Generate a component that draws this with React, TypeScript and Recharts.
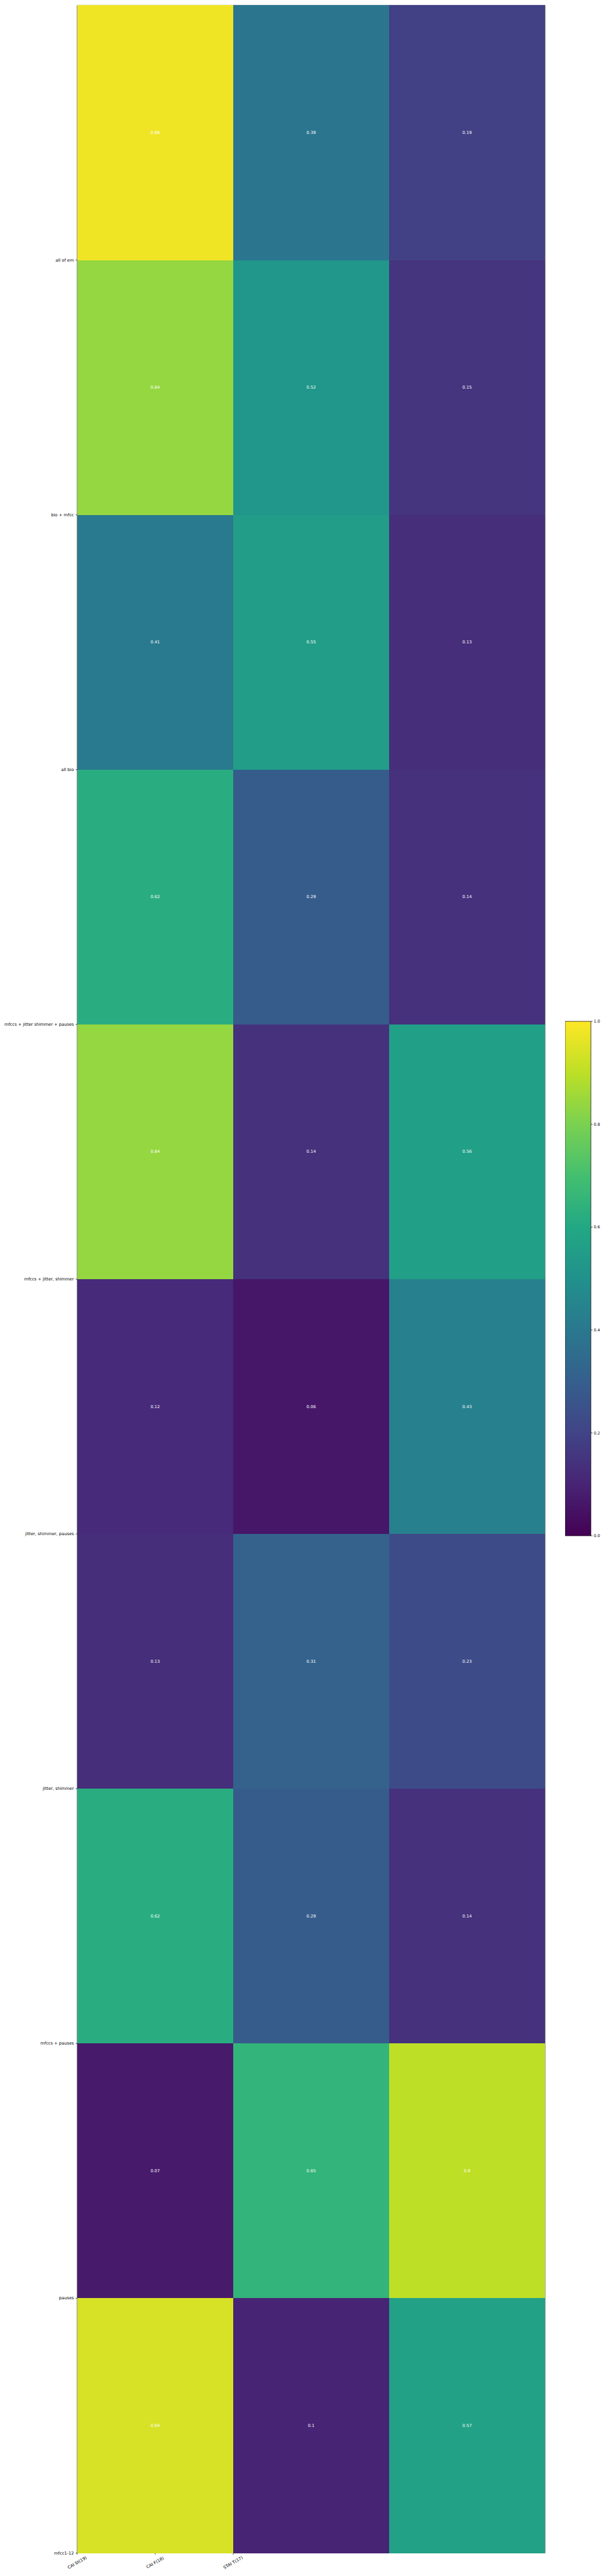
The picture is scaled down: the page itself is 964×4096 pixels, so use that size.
import React from "react"
import { ScatterChart, Scatter, BarChart, Bar, XAxis, YAxis } from "recharts"

// row labels, top to bottom (matplotlib put them on the lower edge of each row)
const rowLabels = [
  "all of em",
  "bio + mfcc",
  "all bio",
  "mfccs + jitter shimmer + pauses",
  "mfccs + jitter, shimmer",
  "jitter, shimmer, pauses",
  "jitter, shimmer",
  "mfccs + pauses",
  "pauses",
  "mfcc1-12",
]
const colLabels = ["CAI St(19)", "CAI F(18)", "STAI T(17)"]

// one array per column, same order as rowLabels
const caiSt = [0.98, 0.84, 0.41, 0.62, 0.84, 0.12, 0.13, 0.62, 0.07, 0.94]
const caiF = [0.39, 0.52, 0.55, 0.29, 0.14, 0.06, 0.31, 0.29, 0.65, 0.1]
const staiT = [0.19, 0.15, 0.13, 0.14, 0.56, 0.43, 0.23, 0.14, 0.9, 0.57]
const columns = [caiSt, caiF, staiT]

const colorbarTicks = [0, 0.2, 0.4, 0.6, 0.8, 1]

// viridis reference stops (0, 0.1, ... 1)
const VIRIDIS = [
  "#440154", "#482475", "#414487", "#355f8d", "#2a788e", "#21918c",
  "#22a884", "#44bf70", "#7ad151", "#bddf26", "#fde725",
]

function viridis(v: number) {
  const t = Math.max(0, Math.min(1, v)) * 10
  const i = Math.min(9, Math.floor(t))
  const f = t - i
  const a = VIRIDIS[i], b = VIRIDIS[i + 1]
  const ch = (s: string, k: number) => parseInt(s.slice(1 + k * 2, 3 + k * 2), 16)
  const mix = (k: number) => Math.round(ch(a, k) + (ch(b, k) - ch(a, k)) * f)
  return `rgb(${mix(0)},${mix(1)},${mix(2)})`
}

const W = 964
const H = 4096
const FONT = "DejaVu Sans"
const PLOT_LEFT = 122.9
const PLOT_TOP = 8.4
const PLOT_RIGHT = 867
const PLOT_BOTTOM = 4059.5
const CELL_W = (PLOT_RIGHT - PLOT_LEFT) / 3
const CELL_H = (PLOT_BOTTOM - PLOT_TOP) / 10

const cells = columns.flatMap((col, j) =>
  col.map((v, i) => ({ x: 2 * j + 1, y: 9.5 - i, v }))
)

const HeatCell = (props: any) => {
  const { cx, cy, payload } = props
  return (
    <g>
      <rect
        x={cx - CELL_W / 2}
        y={cy - CELL_H / 2}
        width={CELL_W}
        height={CELL_H}
        fill={viridis(payload.v)}
        shapeRendering="crispEdges"
      />
      <text x={cx} y={cy} textAnchor="middle" dominantBaseline="central" fill="#fff" fontSize={6.7} fontFamily={FONT}>
        {String(payload.v)}
      </text>
    </g>
  )
}

const XTick = (props: any) => {
  const { x, y, payload } = props
  const cy = y + 10.5
  return (
    <text
      x={x}
      y={cy}
      transform={`rotate(-30 ${x} ${cy})`}
      textAnchor="middle"
      dominantBaseline="central"
      fontSize={6.7}
      fontFamily={FONT}
      fill="#000"
    >
      {colLabels[payload.value]}
    </text>
  )
}

// plain <text> so long labels don't get wrapped
const YTick = (props: any) => {
  const { x, y, payload } = props
  return (
    <text x={x} y={y} textAnchor="end" dominantBaseline="central" fontSize={6.7} fontFamily={FONT} fill="#000">
      {rowLabels[9 - payload.value]}
    </text>
  )
}

const axisLine = { stroke: "#000", strokeWidth: 0.7 }

export default function App() {
  return (
    <div style={{ position: "absolute", left: 0, top: 0, width: W, height: H, background: "#fff" }}>
      <ScatterChart
        width={W}
        height={H}
        margin={{ top: PLOT_TOP - 1, right: W - PLOT_RIGHT - 1, bottom: 0, left: 0 }}
      >
        <XAxis
          xAxisId="b"
          type="number"
          dataKey="x"
          domain={[0, 6]}
          ticks={[0, 1, 2]}
          interval={0}
          height={H - PLOT_BOTTOM}
          axisLine={axisLine}
          tickLine={axisLine}
          tickSize={2.5}
          tickMargin={2.4}
          tick={<XTick />}
        />
        <XAxis
          xAxisId="t"
          orientation="top"
          type="number"
          domain={[0, 6]}
          ticks={[]}
          tick={false}
          tickLine={false}
          height={1}
          axisLine={axisLine}
        />
        <YAxis
          yAxisId="l"
          type="number"
          dataKey="y"
          domain={[0, 10]}
          ticks={[0, 1, 2, 3, 4, 5, 6, 7, 8, 9]}
          interval={0}
          width={PLOT_LEFT}
          axisLine={axisLine}
          tickLine={axisLine}
          tickSize={2.5}
          tickMargin={2.9}
          tick={<YTick />}
        />
        <YAxis
          yAxisId="r"
          orientation="right"
          type="number"
          domain={[0, 10]}
          ticks={[]}
          tick={false}
          tickLine={false}
          width={1}
          axisLine={axisLine}
        />
        <Scatter xAxisId="b" yAxisId="l" data={cells} shape={HeatCell} isAnimationActive={false} />
      </ScatterChart>

      <div style={{ position: "absolute", left: 898.5, top: 1619 }}>
        <BarChart
          width={70}
          height={828}
          data={[{ name: "cb", top: 1 }]}
          margin={{ top: 5, right: 0, bottom: 5, left: 0 }}
          barCategoryGap={0}
        >
          <defs>
            <linearGradient id="viridisGrad" x1="0" y1="1" x2="0" y2="0">
              {VIRIDIS.map((c, i) => (
                <stop key={c} offset={`${i * 10}%`} stopColor={c} />
              ))}
            </linearGradient>
          </defs>
          <XAxis dataKey="name" hide />
          <YAxis
            orientation="right"
            type="number"
            domain={[0, 1]}
            ticks={colorbarTicks}
            interval={0}
            width={29}
            axisLine={false}
            tickLine={axisLine}
            tickSize={2.6}
            tickMargin={1.8}
            tick={{ fontSize: 6.3, fill: "#000", fontFamily: FONT }}
            tickFormatter={(v: number) => v.toFixed(1)}
          />
          <Bar dataKey="top" fill="url(#viridisGrad)" stroke="#000" strokeWidth={0.7} isAnimationActive={false} />
        </BarChart>
      </div>
    </div>
  )
}
